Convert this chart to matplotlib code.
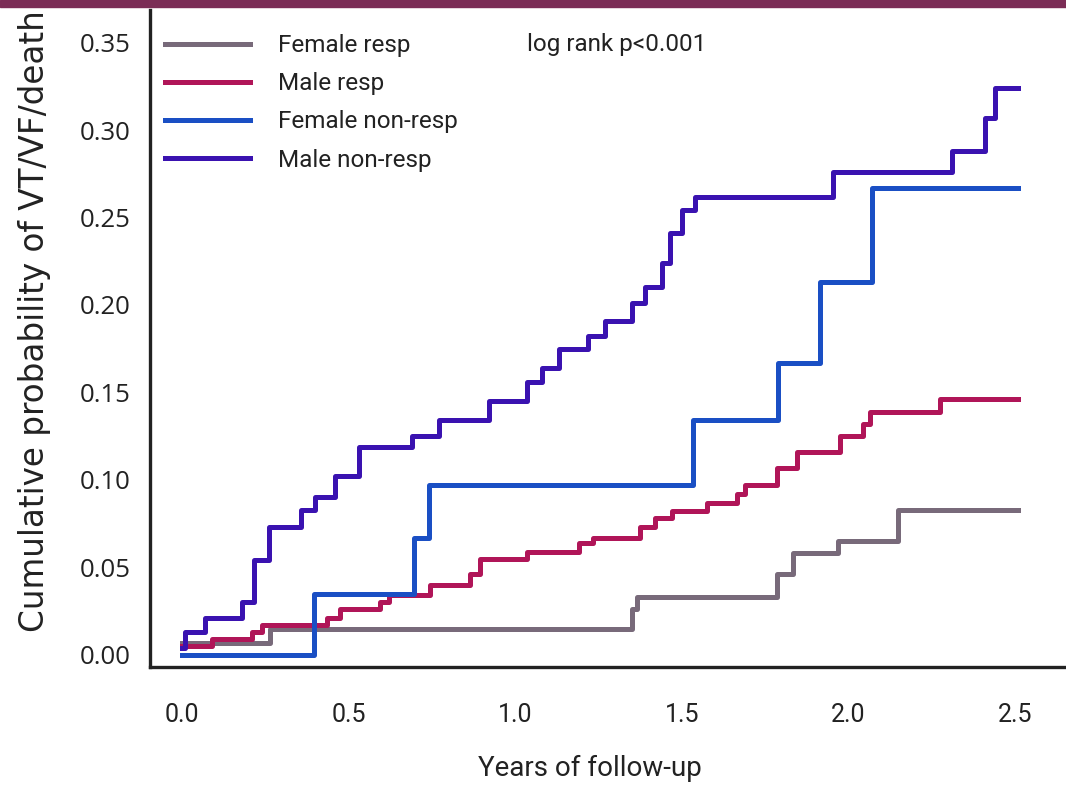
import matplotlib
matplotlib.use("Agg")
import matplotlib.pyplot as plt
from matplotlib.patches import Rectangle

# step curves (years, cumulative probability)
fem_resp_t = [0, 0.265, 1.35, 1.365, 1.785, 1.835, 1.97, 2.15, 2.51]
fem_resp_v = [0.007, 0.015, 0.026, 0.033, 0.046, 0.058, 0.065, 0.083, 0.083]

male_resp_t = [0, 0.09, 0.21, 0.24, 0.435, 0.475, 0.595, 0.62, 0.745, 0.865, 0.895,
               1.035, 1.19, 1.235, 1.375, 1.42, 1.47, 1.575, 1.665, 1.69, 1.785,
               1.845, 1.975, 2.045, 2.065, 2.275, 2.51]
male_resp_v = [0.005, 0.009, 0.013, 0.017, 0.021, 0.026, 0.030, 0.034, 0.040, 0.046, 0.055,
               0.059, 0.064, 0.067, 0.073, 0.078, 0.082, 0.087, 0.092, 0.097, 0.107,
               0.116, 0.125, 0.132, 0.139, 0.146, 0.146]

fem_non_t = [0, 0.397, 0.695, 0.74, 1.535, 1.79, 1.915, 2.07, 2.51]
fem_non_v = [0.0, 0.035, 0.067, 0.097, 0.134, 0.167, 0.213, 0.267, 0.267]

male_non_t = [0, 0.01, 0.07, 0.18, 0.215, 0.26, 0.357, 0.40, 0.46, 0.53, 0.69, 0.77,
              0.92, 1.035, 1.08, 1.13, 1.22, 1.27, 1.35, 1.39, 1.44, 1.465, 1.50,
              1.54, 1.955, 2.31, 2.41, 2.44, 2.51]
male_non_v = [0.004, 0.013, 0.021, 0.030, 0.054, 0.073, 0.083, 0.090, 0.102, 0.119, 0.125, 0.134,
              0.145, 0.156, 0.164, 0.175, 0.182, 0.191, 0.201, 0.210, 0.224, 0.241, 0.254,
              0.262, 0.276, 0.288, 0.307, 0.324, 0.324]

labels = ["Female resp", "Male resp", "Female non-resp", "Male non-resp"]
colors = ["#786a7a", "#b01558", "#1a4fc4", "#3a12b0"]
x_ticks = [0.0, 0.5, 1.0, 1.5, 2.0, 2.5]
y_ticks = [0.00, 0.05, 0.10, 0.15, 0.20, 0.25, 0.30, 0.35]

narrow = ["Roboto", "DejaVu Sans"]

fig = plt.figure(figsize=(10.66, 7.86), dpi=100)
fig.patches.append(Rectangle((0, 0.9905), 1, 0.0095, transform=fig.transFigure,
                             color="#7b2d56", zorder=10))

ax = fig.add_axes([0.1407, 0.1514, 0.8593, 0.8359])

series = [(fem_resp_t, fem_resp_v), (male_resp_t, male_resp_v),
          (fem_non_t, fem_non_v), (male_non_t, male_non_v)]
for (t, v), lab, c in zip(series, labels, colors):
    ax.plot(t, v, drawstyle="steps-post", color=c, lw=3.6, label=lab)

ax.set_xlim(-0.096, 2.653)
ax.set_ylim(-0.0069, 0.3686)
ax.spines["top"].set_visible(False)
ax.spines["right"].set_visible(False)
for s in ["left", "bottom"]:
    ax.spines[s].set_linewidth(2.4)
    ax.spines[s].set_color("#222222")

ax.set_xticks(x_ticks)
ax.set_xticklabels([f"{x:.1f}" for x in x_ticks], family=narrow, fontsize=18)
ax.set_yticks(y_ticks)
ax.set_yticklabels([f"{y:.2f}" for y in y_ticks], family="Open Sans", fontsize=18.5)
ax.tick_params(axis="x", length=0, pad=26, colors="#222222")
ax.tick_params(axis="y", length=0, pad=14, colors="#222222")

leg = ax.legend(loc="upper left", bbox_to_anchor=(0.0164, 0.963), frameon=False,
                borderpad=0, borderaxespad=0, handlelength=3.5, handletextpad=1.15,
                labelspacing=0.62, prop={"family": narrow, "size": 17.5})
for txt in leg.get_texts():
    txt.set_color("#222222")

ax.text(527 / 1066, 1 - 45 / 786, "log rank p<0.001", transform=fig.transFigure,
        fontsize=17.5, family=narrow, color="#222222", ha="left", va="center")

fig.text(590 / 1066, 1 - 768 / 786, "Years of follow-up", family=narrow, fontsize=20,
         ha="center", va="center", color="#222222")
fig.text(35 / 1066, 1 - 632 / 786, "Cumulative probability of VT/VF/death",
         family="DejaVu Sans", fontsize=23.5, rotation=90, ha="center", va="bottom",
         color="#222222")

fig.savefig("out.png", dpi=100)
